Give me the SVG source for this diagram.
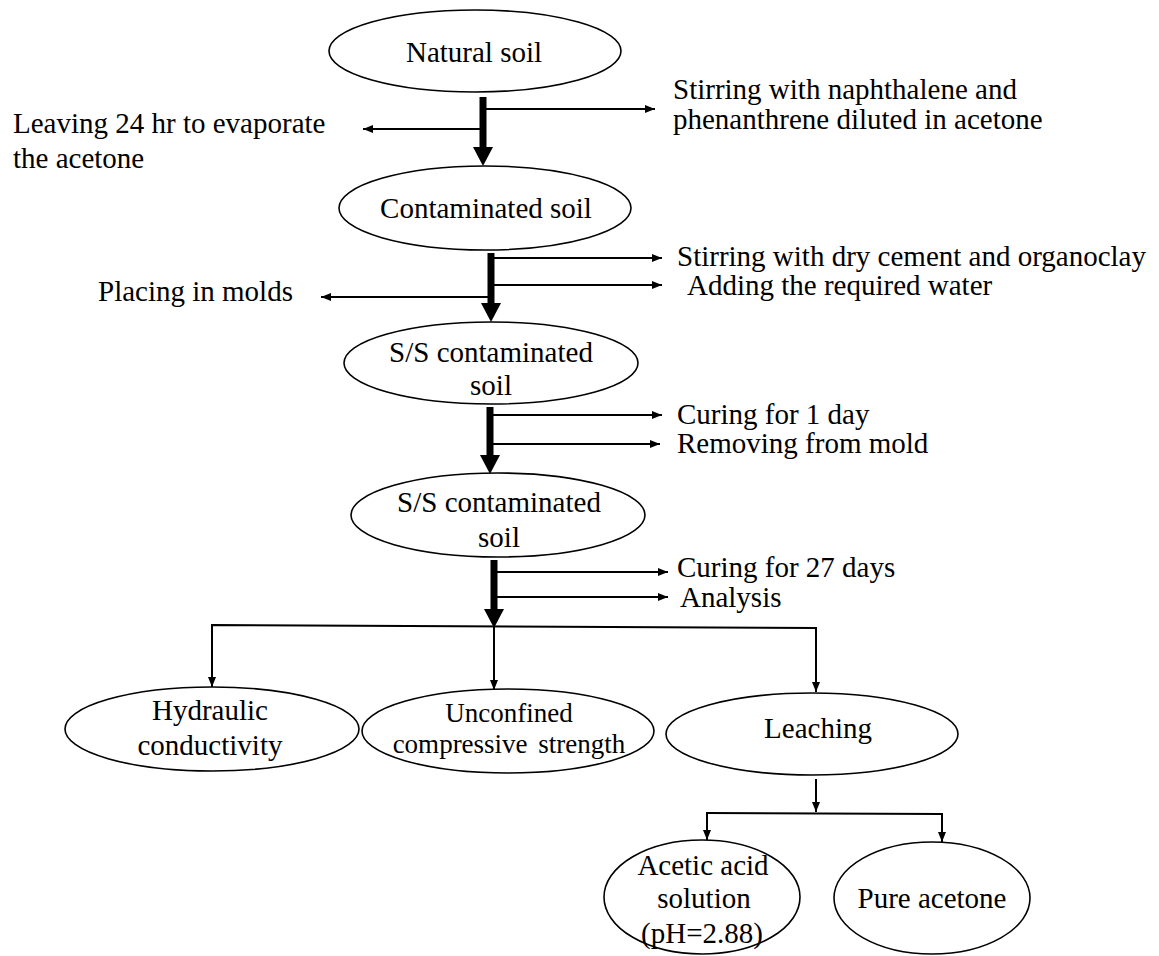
<svg xmlns="http://www.w3.org/2000/svg" width="1159" height="956" viewBox="0 0 1159 956">
<defs>
<style>
.node ellipse{fill:#fff;stroke:#000;stroke-width:1.6}
text{font-family:"Liberation Serif","Times New Roman",serif;font-size:29px;fill:#000}
.c{text-anchor:middle}
.thin{stroke:#000;stroke-width:2;fill:none;marker-end:url(#ah)}
.line{stroke:#000;stroke-width:2;fill:none}
.thick{stroke:#000;stroke-width:7;fill:none;marker-end:url(#big)}
</style>
<marker id="ah" markerUnits="userSpaceOnUse" viewBox="0 0 10 8" markerWidth="10" markerHeight="8" refX="10" refY="4" orient="auto">
<path d="M0,0 L10,4 L0,8 z" fill="#000"/>
</marker>
<marker id="big" markerUnits="userSpaceOnUse" viewBox="0 -10 19 20" markerWidth="19" markerHeight="20" refX="0" refY="0" orient="auto">
<path d="M0,-10 L19,0 L0,10 z" fill="#000"/>
</marker>
</defs>
<rect width="1159" height="956" fill="#fff"/>

<g id="connectors">
<line class="thick" x1="483" y1="97" x2="483" y2="147"/>
<line class="thin" x1="486" y1="109" x2="655" y2="109"/>
<line class="thin" x1="480" y1="129" x2="363" y2="129"/>

<line class="thick" x1="491" y1="253" x2="491" y2="303"/>
<line class="thin" x1="494" y1="258" x2="662" y2="258"/>
<line class="thin" x1="494" y1="285" x2="662" y2="285"/>
<line class="thin" x1="488" y1="297" x2="321" y2="297"/>

<line class="thick" x1="490" y1="407" x2="490" y2="455"/>
<line class="thin" x1="493" y1="415" x2="662" y2="415"/>
<line class="thin" x1="493" y1="444" x2="660" y2="444"/>

<line class="thick" x1="494" y1="560" x2="494" y2="609"/>
<line class="thin" x1="497" y1="572" x2="668" y2="572"/>
<line class="thin" x1="497" y1="597" x2="668" y2="597"/>

<polyline class="line" points="212,686 212,625 816,628"/>
<line class="thin" x1="212" y1="626" x2="212" y2="687"/>
<line class="thin" x1="494" y1="627" x2="494" y2="690"/>
<line class="thin" x1="816" y1="627" x2="816" y2="692"/>

<line class="thin" x1="816" y1="779" x2="816" y2="812"/>
<line class="line" x1="707" y1="813" x2="942" y2="814"/>
<line class="thin" x1="707" y1="812" x2="707" y2="840"/>
<line class="thin" x1="942" y1="813" x2="942" y2="842"/>
</g>

<g id="natural-soil" class="node">
<ellipse cx="475" cy="51" rx="146" ry="41"/>
<text class="c" x="474" y="62">Natural soil</text>
</g>
<g id="label-stirring-naphthalene">
<text x="673" y="99">Stirring with naphthalene and</text>
<text x="673" y="129">phenanthrene diluted in acetone</text>
</g>
<g id="label-leaving">
<text x="13" y="133">Leaving 24 hr to evaporate</text>
<text x="13" y="168">the acetone</text>
</g>

<g id="contaminated-soil" class="node">
<ellipse cx="485" cy="208" rx="146" ry="42"/>
<text class="c" x="486" y="218">Contaminated soil</text>
</g>
<g id="label-stirring-cement">
<text x="677" y="266">Stirring with dry cement and organoclay</text>
<text x="687" y="295">Adding the required water</text>
</g>
<g id="label-placing">
<text x="98" y="301">Placing in molds</text>
</g>

<g id="ss-soil-1" class="node">
<ellipse cx="491" cy="363" rx="147" ry="41"/>
<text class="c" x="491" y="362">S/S contaminated</text>
<text class="c" x="491" y="395">soil</text>
</g>
<g id="label-curing-1">
<text x="677" y="424">Curing for 1 day</text>
<text x="677" y="453">Removing from mold</text>
</g>

<g id="ss-soil-2" class="node">
<ellipse cx="498" cy="515" rx="147" ry="42"/>
<text class="c" x="499" y="512">S/S contaminated</text>
<text class="c" x="499" y="547">soil</text>
</g>
<g id="label-curing-27">
<text x="677" y="577">Curing for 27 days</text>
<text x="680" y="607">Analysis</text>
</g>

<g id="hydraulic" class="node">
<ellipse cx="212" cy="729" rx="147" ry="42"/>
<text class="c" x="210" y="720">Hydraulic</text>
<text class="c" x="210" y="755">conductivity</text>
</g>
<g id="ucs" class="node">
<ellipse cx="508" cy="731" rx="146" ry="42"/>
<text class="c" x="509" y="722" style="font-size:27px">Unconfined</text>
<text class="c" x="509" y="753" style="font-size:27px" word-spacing="4">compressive strength</text>
</g>
<g id="leaching" class="node">
<ellipse cx="812" cy="734" rx="146" ry="41"/>
<text class="c" x="818" y="738">Leaching</text>
</g>
<g id="acetic" class="node">
<ellipse cx="702" cy="897" rx="98" ry="57"/>
<text class="c" x="703" y="875">Acetic acid</text>
<text class="c" x="704" y="908">solution</text>
<text class="c" x="702" y="943">(pH=2.88)</text>
</g>
<g id="pure-acetone" class="node">
<ellipse cx="932" cy="898" rx="98" ry="56"/>
<text class="c" x="932" y="908">Pure acetone</text>
</g>
</svg>
